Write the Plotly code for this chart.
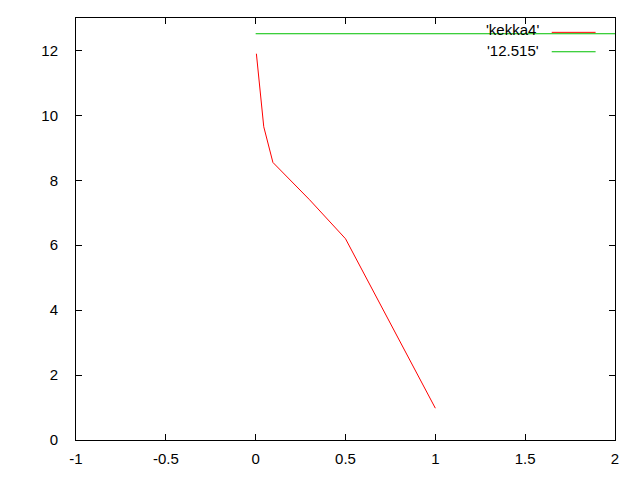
import plotly.graph_objects as go

# data
kekka4_x = [0.004, 0.045, 0.096, 0.30, 0.50, 1.0]
kekka4_y = [11.9, 9.65, 8.55, 7.4, 6.2, 0.98]
const_x = [0.0, 2.0]
const_val = 12.515
const_y = [const_val, const_val]
x_ticks = [-1, -0.5, 0, 0.5, 1, 1.5, 2]
x_tick_labels = ["-1", "-0.5", "0", "0.5", "1", "1.5", "2"]
y_ticks = [0, 2, 4, 6, 8, 10, 12]
legend_names = ["'kekka4'", "'12.515'"]

RED = "#ff0000"
GREEN = "#00c000"
FONT = "Liberation Sans"
FS = 15

fig = go.Figure()
fig.add_trace(go.Scatter(x=kekka4_x, y=kekka4_y, mode="lines",
                         line=dict(color=RED, width=1), name=legend_names[0]))
fig.add_trace(go.Scatter(x=const_x, y=const_y, mode="lines",
                         line=dict(color=GREEN, width=1), name=legend_names[1]))

axis_common = dict(showgrid=False, zeroline=False, showline=True, linecolor="black",
                   linewidth=1, mirror="ticks", ticks="inside", ticklen=6,
                   tickcolor="black", tickwidth=1, automargin=False,
                   tickfont=dict(family=FONT, size=FS, color="black"))

fig.update_xaxes(range=[-1, 2], tickvals=x_ticks, ticktext=x_tick_labels,
                 ticklabelstandoff=5, **axis_common)
fig.update_yaxes(range=[0, 13], tickvals=y_ticks, ticklabelstandoff=14, **axis_common)

# manual gnuplot-style legend (text left, sample right)
leg_rows = [(0.9716, 0.966, RED), (0.924, 0.920, GREEN)]
for name, (ty, ly, col) in zip(legend_names, leg_rows):
    fig.add_annotation(xref="paper", yref="paper", x=0.863, y=ty, text=name,
                       showarrow=False, xanchor="right", yanchor="middle",
                       font=dict(family=FONT, size=FS, color="black"))
    fig.add_shape(type="line", xref="paper", yref="paper", x0=0.8826, x1=0.964,
                  y0=ly, y1=ly, line=dict(color=col, width=1))

fig.update_layout(width=632, height=472, showlegend=False,
                  plot_bgcolor="white", paper_bgcolor="white",
                  margin=dict(l=68, r=25, t=10, b=40, pad=0))

fig.write_html("out.html")
